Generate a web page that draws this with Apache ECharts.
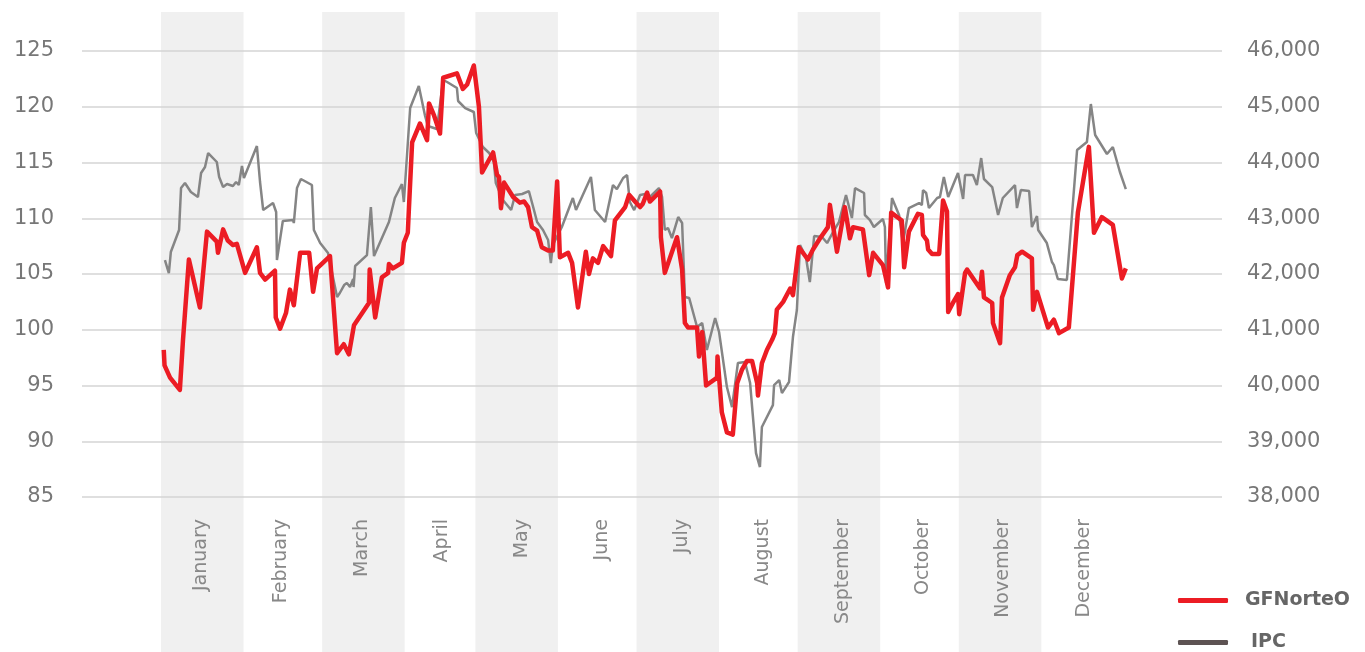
<!DOCTYPE html>
<html>
<head>
    <meta charset="utf-8" />
    <title>GFNorteO vs IPC</title>
    <script type="text/javascript" src="https://cdn.jsdelivr.net/npm/echarts@6/dist/echarts.min.js"></script>
    <style>
        html, body { margin: 0; padding: 0; background: #fff; }
    </style>
</head>
<body>
<div id="main" style="width: 1365px;height:652px;"></div>
<script type="text/javascript">
    // months and trading days per month (x axis unit = trading day)
    var months = ['January', 'February', 'March', 'April', 'May', 'June',
        'July', 'August', 'September', 'October', 'November', 'December'];
    var monthDays = [21, 20, 21, 18, 21, 20, 21, 20, 21, 20, 21, 21];

    // GFNorteO (left axis)
    var gfDays = [0.7, 0.9, 2.3, 4.8, 5.6, 7.1, 9.9, 11.7, 14.2, 14.5, 15.8, 17.0, 18.3, 19.3, 21.4, 24.4, 25.2, 26.5,
        29.0, 29.2, 30.3, 31.8, 32.8, 33.8, 35.4, 37.7, 38.7, 39.7, 43.0, 44.8, 46.5, 47.8, 49.1, 52.9, 53.1, 54.5,
        56.2, 57.8, 58.0, 59.0, 61.3, 61.8, 62.8, 63.1, 63.9, 65.9, 67.7, 68.2, 69.5, 71.0, 71.8, 75.3, 76.8, 77.9,
        79.6, 80.9, 81.7, 84.5, 85.5, 86.0, 86.5, 87.3, 89.6, 91.3, 92.4, 93.4, 94.4, 95.7, 96.9, 98.5, 99.7, 100.8,
        101.5, 103.6, 104.6, 106.1, 108.1, 108.9, 109.9, 111.2, 112.5, 114.5, 115.5, 118.1, 119.1, 120.6, 121.9,
        122.6, 123.7, 124.4, 127.0, 127.2, 128.2, 131.3, 132.6, 133.3, 134.1, 136.4, 136.9, 137.7, 138.7, 141.5,
        141.6, 142.7, 144.0, 145.5, 146.6, 147.8, 149.1, 150.4, 151.7, 151.9, 152.9, 154.2, 155.5, 156.2, 156.7,
        158.3, 160.1, 160.8, 162.3, 164.6, 165.9, 167.7, 169.7, 170.2, 172.0, 174.0, 175.3, 176.1, 178.6, 180.2,
        181.2, 183.7, 185.0, 185.8, 188.5, 189.1, 190.3, 192.6, 193.6, 193.9, 194.9, 195.2, 196.2, 198.0, 199.0,
        200.0, 200.3, 201.5, 202.8, 203.1, 204.6, 205.1, 208.4, 208.9, 209.4, 211.5, 211.7, 213.5, 214.0, 216.0,
        217.3, 217.8, 217.9, 219.1, 221.6, 221.9, 222.9, 225.7, 227.2, 228.5, 231.0, 233.3, 236.1, 237.4, 239.4,
        242.2, 244.5, 245.5];
    var gfValues = [98.2, 96.8, 95.7, 94.6, 99.1, 106.3, 102.0, 108.8, 107.9, 106.9, 109.0, 108.0, 107.6, 107.7, 105.1, 107.4, 105.1, 104.5,
        105.3, 101.1, 100.1, 101.5, 103.6, 102.2, 106.9, 106.9, 103.4, 105.5, 106.6, 97.9, 98.7, 97.8, 100.4, 102.4, 105.4, 101.1,
        104.7, 105.1, 105.9, 105.5, 106.0, 107.8, 108.7, 111.0, 116.8, 118.5, 117.0, 120.3, 119.2, 117.6, 122.6, 123.0, 121.6, 122.0,
        123.7, 120.0, 114.1, 115.9, 113.9, 113.7, 110.9, 113.2, 111.9, 111.4, 111.5, 111.0, 109.2, 108.9, 107.4, 107.1, 107.1, 113.3,
        106.5, 106.9, 106.0, 102.0, 107.0, 105.0, 106.4, 106.0, 107.5, 106.6, 109.8, 111.0, 112.1, 111.5, 111.0,
        111.3, 112.3, 111.5, 112.4, 108.3, 105.1, 108.3, 105.4, 100.6, 100.2, 100.2, 97.6, 99.8, 95.0, 95.7,
        97.6, 92.6, 90.8, 90.6, 95.2, 96.4, 97.2, 97.2, 95.2, 94.1, 97.0, 98.2, 99.1, 99.7, 101.8,
        102.5, 103.7, 103.1, 107.4, 106.3, 107.2, 108.2, 109.2, 111.2, 107.0, 111.0, 108.2, 109.2, 109.0, 104.9,
        106.9, 105.8, 103.8, 110.5, 109.8, 105.6, 108.8, 110.4, 110.3, 108.5, 108.0, 107.2, 106.8, 106.8, 111.6,
        110.6, 101.6, 102.4, 103.2, 101.4, 105.1, 105.4, 103.7, 105.2, 102.9, 102.4, 100.6, 98.8, 102.9, 104.9,
        105.6, 105.6, 106.7, 107.0, 106.4, 101.8, 103.4, 100.2, 100.9, 99.7, 100.2, 110.5, 116.4, 108.7, 110.1,
        109.4, 104.6, 105.5];

    // IPC (right axis)
    var ipcDays = [1.0, 2.0, 2.5, 4.6, 5.1, 6.1, 7.6, 9.4, 10.2, 11.2, 12.0, 14.2, 14.8, 15.8, 16.8, 18.3, 19.1, 19.8,
        20.6, 21.1, 24.4, 25.2, 26.0, 28.5, 29.3, 29.5, 31.0, 33.6, 33.8, 34.6, 35.6, 38.4, 38.9, 40.5, 42.5, 44.8,
        45.5, 46.6, 47.3, 48.1, 48.9, 49.0, 49.4, 52.4, 53.4, 54.2, 58.0, 59.5, 61.3, 61.8, 63.4, 65.6, 67.2, 67.9,
        70.2, 71.8, 72.8, 75.3, 75.6, 77.4, 79.6, 80.2, 81.9, 83.5, 84.7, 85.2, 87.0, 89.1, 90.1, 91.9, 93.6, 94.7,
        95.7, 97.2, 98.5, 99.2, 99.7, 102.0, 104.8, 105.6, 109.4, 110.4, 113.0, 115.0, 116.0, 117.6, 118.6, 119.3,
        120.4, 121.9, 123.2, 124.4, 126.7, 127.5, 128.2, 129.0, 130.0, 131.6, 132.6, 133.3, 134.4, 136.4, 137.7,
        138.9, 141.0, 142.0, 144.0, 145.3, 146.8, 148.6, 149.9, 151.4, 152.4, 152.9, 155.7, 156.0, 157.3, 158.0,
        159.8, 160.8, 161.8, 162.6, 164.1, 165.1, 166.2, 168.2, 169.5, 171.0, 172.5, 174.3, 175.8, 176.6, 178.9,
        179.1, 180.4, 181.4, 183.7, 184.2, 184.5, 186.0, 187.8, 188.8, 190.3, 192.9, 193.6, 193.9, 194.7, 195.4,
        197.5, 198.2, 199.2, 200.3, 202.8, 204.1, 204.6, 206.6, 207.6, 208.7, 209.4, 211.5, 213.0, 214.2, 217.3,
        217.8, 218.8, 220.9, 221.6, 222.9, 223.2, 225.4, 226.7, 227.2, 228.2, 230.5, 233.1, 235.6, 236.6, 237.7,
        240.7, 242.2, 244.0, 245.5];
    var ipcValues = [42250, 42017, 42394, 42789, 43542, 43632, 43470, 43381, 43811, 43919, 44170, 44009, 43740, 43560, 43614, 43578, 43650, 43596,
        43937, 43722, 44296, 43650, 43147, 43273, 43112, 42250, 42950, 42968, 42914, 43542, 43704, 43596, 42789, 42555, 42376, 41587,
        41659, 41802, 41838, 41766, 41910, 41766, 42143, 42340, 43201, 42322, 42932, 43363, 43614, 43291, 44977, 45372, 44834, 44654,
        44600, 45480, 45444, 45336, 45103, 44977, 44906, 44529, 44278, 44170, 44009, 43632, 43327, 43147, 43417, 43435, 43488, 43201,
        42932, 42789, 42609, 42197, 42520, 42842, 43363, 43147, 43740, 43147, 42932, 43596, 43524, 43722, 43775, 43291,
        43147, 43417, 43435, 43381, 43542, 43381, 42789, 42825, 42645, 43022, 42914, 41587, 41569, 41049, 41121,
        40636, 41210, 40959, 39972, 39613, 40403, 40421, 40044, 38788, 38537, 39255, 39649, 40008, 40098, 39864,
        40062, 40869, 41354, 42520, 42304, 41856, 42681, 42663, 42555, 42753, 42932, 43417, 43004, 43542, 43453,
        43058, 42968, 42842, 42986, 42842, 41838, 43363, 43058, 42555, 43183, 43273, 43237, 43506, 43453, 43183,
        43363, 43381, 43740, 43381, 43811, 43345, 43776, 43776, 43596, 44080, 43704, 43560, 43058, 43363, 43596,
        43183, 43506, 43488, 42842, 43040, 42789, 42555, 42215, 42160, 41910, 41892, 44224, 44367, 45049, 44493,
        44152, 44278, 43829, 43524];

    var leftTicks = [85, 125, 5];
    var rightTicks = [38000, 46000, 1000];

    // month boundaries -> shaded bands (Jan, Mar, May, ...)
    var monthStart = [0];
    for (var i = 0; i < monthDays.length; i++) {
        monthStart.push(monthStart[i] + monthDays[i]);
    }
    var bands = [];
    for (var i = 0; i < months.length; i += 2) {
        bands.push([{xAxis: monthStart[i]}, {xAxis: monthStart[i + 1]}]);
    }

    // px per trading day inside the plot, first month starts at x=161
    var dayPx = 3.93, gridLeft = 82, gridRight = 143, monthLeft = 161;
    var xMin = -(monthLeft - gridLeft) / dayPx;
    var xMax = (1365 - gridRight - monthLeft) / dayPx;
    var monthRight = 1365 - monthLeft - monthStart[12] * dayPx;
    var font = 'DejaVu Sans';

    var myChart = echarts.init(document.getElementById('main'));
    var legendText = {fontFamily: font, fontWeight: 'bold', fontSize: 19, color: '#666', padding: [0, 0, 0, 12]};
    var option = {
        animation: false,
        grid: [
            {left: gridLeft, right: gridRight, top: 51, bottom: 155},
            {left: gridLeft, right: gridRight, top: 12, bottom: 0},
            {left: monthLeft, right: monthRight, top: 51, bottom: 155}
        ],
        legend: [
            {
                left: 1173, top: 586, itemWidth: 50, itemHeight: 5, icon: 'roundRect',
                textStyle: legendText,
                data: [{name: 'GFNorteO'}]
            },
            {
                left: 1173, top: 628, itemWidth: 50, itemHeight: 5, icon: 'roundRect',
                textStyle: Object.assign({}, legendText, {padding: [0, 0, 0, 18]}),
                data: [{name: 'IPC', itemStyle: {color: '#5d5353'}}]
            }
        ],
        xAxis: [
            {
                type: 'value', gridIndex: 0, min: xMin, max: xMax, show: false
            },
            {
                type: 'value', gridIndex: 1, min: xMin, max: xMax, show: false
            },
            {
                type: 'category', gridIndex: 2, data: months, boundaryGap: true, z: 6,
                axisLine: {show: false}, axisTick: {show: false}, splitLine: {show: false},
                axisLabel: {
                    interval: 0,
                    rotate: 90,
                    margin: 22,
                    fontFamily: font,
                    fontSize: 19,
                    color: '#888'
                }
            }
        ],
        yAxis: [
            {
                type: 'value', gridIndex: 0, position: 'left', z: 5,
                min: leftTicks[0], max: leftTicks[1], interval: leftTicks[2],
                axisLine: {show: false}, axisTick: {show: false},
                axisLabel: {margin: 28, fontFamily: font, fontSize: 21, color: '#777'},
                splitLine: {lineStyle: {color: '#d4d4d4', width: 1.5}}
            },
            {
                type: 'value', gridIndex: 0, position: 'right', z: 5,
                min: rightTicks[0], max: rightTicks[1], interval: rightTicks[2],
                axisLine: {show: false}, axisTick: {show: false},
                axisLabel: {
                    margin: 25, fontFamily: font, fontSize: 21, color: '#777',
                    formatter: function (v) { return v.toLocaleString('en-US'); }
                },
                splitLine: {show: false}
            },
            {
                type: 'value', gridIndex: 1, min: 0, max: 1, show: false
            },
            {
                type: 'value', gridIndex: 2, min: 0, max: 1, show: false
            }
        ],
        series: [
            {
                name: 'bands',
                type: 'line',
                xAxisIndex: 1,
                yAxisIndex: 2,
                data: [],
                silent: true,
                z: 1,
                markArea: {
                    silent: true,
                    itemStyle: {color: '#f0f0f0'},
                    data: bands
                }
            },
            {
                name: 'IPC',
                type: 'line',
                xAxisIndex: 0,
                yAxisIndex: 1,
                symbol: 'none',
                z: 7,
                itemStyle: {color: '#858585'},
                lineStyle: {color: '#858585', width: 2.5},
                data: ipcDays.map(function (d, i) { return [d, ipcValues[i]]; })
            },
            {
                name: 'GFNorteO',
                type: 'line',
                xAxisIndex: 0,
                yAxisIndex: 0,
                symbol: 'none',
                z: 8,
                itemStyle: {color: '#ec1c24'},
                lineStyle: {color: '#ec1c24', width: 4.5, join: 'round'},
                data: gfDays.map(function (d, i) { return [d, gfValues[i]]; })
            }
        ]
    };
    myChart.setOption(option);
</script>
</body>
</html>
